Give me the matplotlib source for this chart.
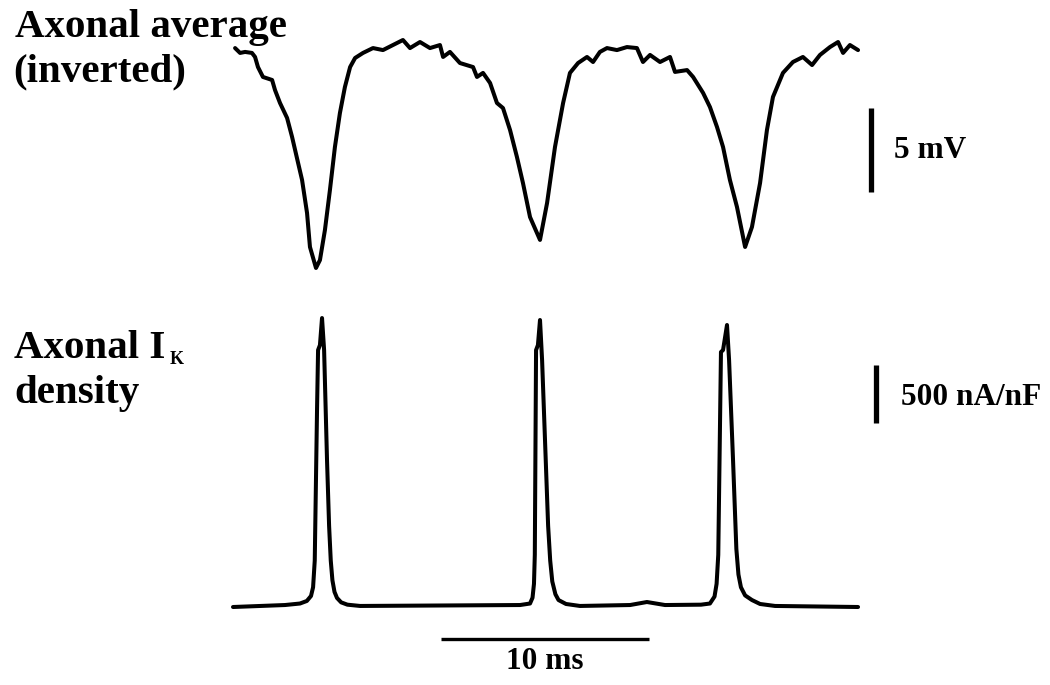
import matplotlib
matplotlib.use("Agg")
import matplotlib.pyplot as plt
import numpy as np

# ---------------- data ----------------
# Top trace: axonal average membrane potential (inverted), time in ms, value in mV (relative)
v_time = [0.10, 0.34, 0.58, 0.91, 1.06, 1.20, 1.44, 1.88, 2.02, 2.26, 2.60, 2.84, 3.13, 3.32,
          3.56, 3.70, 3.99, 4.18, 4.42, 4.66, 4.90, 5.14, 5.38, 5.63, 5.87, 6.25, 6.73, 7.21,
          7.69, 8.17, 8.51, 8.99, 9.47, 9.95, 10.10, 10.43, 10.91, 11.54, 11.73, 12.02, 12.36,
          12.69, 12.98, 13.32, 13.65, 13.94, 14.28, 14.76, 15.10, 15.48, 15.87, 16.20, 16.59,
          17.02, 17.31, 17.64, 17.98, 18.46, 18.94, 19.42, 19.71, 20.05, 20.53, 21.01, 21.25,
          21.83, 22.12, 22.60, 22.93, 23.27, 23.56, 23.89, 24.23, 24.62, 24.95, 25.34, 25.67,
          25.96, 26.44, 26.92, 27.40, 27.84, 28.22, 28.70, 29.09, 29.33, 29.66, 30.05]
v_mV = [-0.48, -0.77, -0.71, -0.77, -1.01, -1.61, -2.20, -2.38, -2.98, -3.75, -4.64, -5.77,
        -7.32, -8.33, -10.30, -12.32, -13.57, -13.10, -11.31, -8.93, -6.37, -4.35, -2.80,
        -1.61, -1.07, -0.77, -0.48, -0.60, -0.30, 0.00, -0.48, -0.12, -0.48, -0.30, -1.01,
        -0.71, -1.37, -1.61, -2.20, -1.96, -2.56, -3.75, -4.05, -5.36, -6.96, -8.51, -10.54,
        -11.90, -9.70, -6.37, -3.75, -1.96, -1.37, -1.01, -1.31, -0.71, -0.48, -0.60, -0.42,
        -0.48, -1.31, -0.89, -1.31, -1.01, -1.90, -1.79, -2.20, -3.15, -3.99, -5.18, -6.37,
        -8.33, -9.94, -12.32, -11.13, -8.51, -5.36, -3.39, -1.96, -1.31, -1.01, -1.49, -0.89,
        -0.42, -0.12, -0.77, -0.30, -0.60]

# Bottom trace: axonal I_K density, time in ms, value in nA/nF
ik_time = [0.00, 2.50, 3.22, 3.55, 3.75, 3.85, 3.93, 4.04, 4.09, 4.18, 4.28, 4.38, 4.52,
           4.62, 4.70, 4.78, 4.88, 5.00, 5.20, 5.50, 6.11,
           13.80, 14.28, 14.40, 14.47, 14.51, 14.57, 14.66, 14.76, 14.86, 15.00, 15.15,
           15.25, 15.35, 15.50, 15.65, 16.01, 16.68,
           19.09, 19.90, 20.77,
           22.50, 22.93, 23.15, 23.25, 23.33, 23.46, 23.56, 23.75, 23.85, 24.04, 24.20,
           24.30, 24.42, 24.62, 24.95, 25.34, 26.06, 30.05]
ik_nA_nF = [0, 17, 30, 52, 95, 170, 400, 1700, 2215, 2258, 2491, 2215, 1267,
            700, 400, 230, 130, 78, 40, 20, 9,
            17, 30, 80, 200, 450, 2215, 2258, 2474, 2129, 1440, 700,
            400, 220, 110, 60, 26, 9,
            17, 43, 17,
            20, 30, 90, 200, 450, 2198, 2215, 2431, 2129, 1267, 500,
            280, 170, 100, 60, 26, 9, 0]

# scale bars
bar_mV = 5
bar_current = 500
bar_ms = 10
title_top = ["Axonal average", "(inverted)"]
title_bottom = ["Axonal I", "K", "density"]
label_mV = "5 mV"
label_current = "500 nA/nF"
label_ms = "10 ms"

# ---------------- layout ----------------
W, H = 1050, 685
fig = plt.figure(figsize=(W / 100, H / 100), dpi=100)
fig.patch.set_facecolor("white")

px_per_ms = 20.8
x0_px = 233          # pixel where t = 0
xlim = (-x0_px / px_per_ms, (W - x0_px) / px_per_ms)

# top axes (pixel rows 0..300)
px_per_mV = 16.8
top_zero_px = 40      # pixel row of v=0
axT = fig.add_axes([0, 1 - 300 / H, 1, 300 / H])
axT.set_xlim(*xlim)
axT.set_ylim(-(300 - top_zero_px) / px_per_mV, top_zero_px / px_per_mV)
axT.axis("off")

# bottom axes (pixel rows 300..685)
px_per_unit = 58 / 500
base_px = 607
axB = fig.add_axes([0, 0, 1, 385 / H])
axB.set_xlim(*xlim)
axB.set_ylim(-(H - base_px) / px_per_unit, (base_px - 300) / px_per_unit)
axB.axis("off")

lw_trace = 2.9
axT.plot(v_time, v_mV, color="black", lw=lw_trace, solid_joinstyle="round",
         solid_capstyle="round")
axB.plot(ik_time, ik_nA_nF, color="black", lw=lw_trace, solid_joinstyle="round",
         solid_capstyle="round")

serif = "Liberation Serif"
lab_fs = 22.5

# scale bars
t_bar_v = (871 - x0_px) / px_per_ms
v_top = -(108 - top_zero_px) / px_per_mV
axT.plot([t_bar_v, t_bar_v], [v_top, v_top - bar_mV], color="black", lw=3.8,
         solid_capstyle="butt")
axT.text(t_bar_v + 1.1, v_top - bar_mV / 2, label_mV, fontsize=lab_fs, fontweight="bold",
         family=serif, va="center", ha="left")

t_bar_i = (876 - x0_px) / px_per_ms
i_top = (base_px - 365) / px_per_unit
axB.plot([t_bar_i, t_bar_i], [i_top, i_top - bar_current], color="black", lw=3.8,
         solid_capstyle="butt")
axB.text(t_bar_i + 1.2, i_top - bar_current / 2 - 30, label_current, fontsize=lab_fs,
         fontweight="bold", family=serif, va="center", ha="left")

t_start = 10.0
i_hbar = -(639 - base_px) / px_per_unit
axB.plot([t_start, t_start + bar_ms], [i_hbar, i_hbar], color="black", lw=2.4,
         solid_capstyle="butt")
axB.text(t_start + bar_ms / 2, i_hbar - 70, label_ms, fontsize=lab_fs, fontweight="bold",
         family=serif, va="top", ha="center")

# titles
tk = dict(fontsize=29.5, fontweight="bold", family=serif, va="baseline", ha="left")
fig.text(15 / W, 1 - 37 / H, title_top[0], **tk)
fig.text(13 / W, 1 - 81 / H, title_top[1], **tk)
t_ax = fig.text(14 / W, 1 - 358 / H, title_bottom[0], **tk)
fig.text(14 / W, 1 - 403 / H, title_bottom[2], **tk)

fig.canvas.draw()
ext = t_ax.get_window_extent(renderer=fig.canvas.get_renderer())
fig.text((ext.x1 + 4) / W, 1 - 364 / H, title_bottom[1], fontsize=13, fontweight="bold",
         family=serif, va="baseline", ha="left")

fig.savefig("out.png", dpi=100, facecolor="white")
